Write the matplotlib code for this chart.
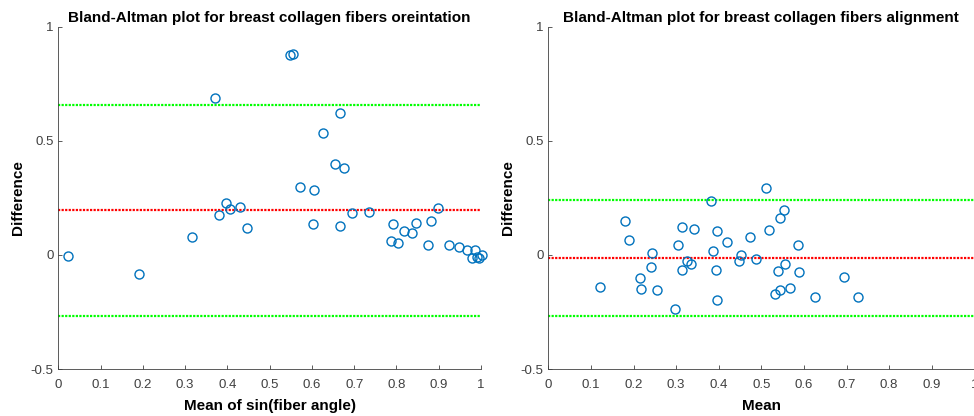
import numpy as np
import matplotlib
matplotlib.use("Agg")
import matplotlib.pyplot as plt

plt.rcParams['font.family'] = ['Liberation Sans', 'DejaVu Sans']

# orientation panel: mean of sin(fiber angle) vs difference
orient_mean = [0.022, 0.191, 0.317, 0.371, 0.379, 0.396, 0.407, 0.431, 0.446,
               0.549, 0.555, 0.571, 0.606, 0.603, 0.626, 0.654, 0.667, 0.666,
               0.677, 0.696, 0.735, 0.791, 0.787, 0.804, 0.818, 0.837, 0.846,
               0.875, 0.882, 0.899, 0.924, 0.948, 0.968, 0.985, 0.979, 0.990,
               0.996, 1.002]
orient_diff = [-0.005, -0.084, 0.078, 0.686, 0.175, 0.227, 0.200, 0.210, 0.118,
               0.874, 0.880, 0.297, 0.284, 0.135, 0.532, 0.398, 0.624, 0.126,
               0.380, 0.183, 0.188, 0.135, 0.061, 0.052, 0.105, 0.096, 0.140,
               0.043, 0.149, 0.205, 0.042, 0.035, 0.023, 0.021, -0.012, -0.008,
               -0.015, 0.001]
orient_bias = 0.195
orient_loa = [-0.266, 0.657]

# alignment panel
align_mean = [0.122, 0.180, 0.189, 0.216, 0.218, 0.244, 0.242, 0.256, 0.297,
              0.304, 0.313, 0.313, 0.326, 0.334, 0.343, 0.383, 0.387, 0.396,
              0.394, 0.396, 0.419, 0.447, 0.452, 0.474, 0.488, 0.512, 0.518,
              0.531, 0.540, 0.543, 0.543, 0.553, 0.555, 0.568, 0.587, 0.589,
              0.626, 0.695, 0.728]
align_diff = [-0.141, 0.149, 0.065, -0.101, -0.149, 0.008, -0.053, -0.154, -0.237,
              0.043, 0.121, -0.066, -0.025, -0.041, 0.113, 0.236, 0.017, 0.106,
              -0.066, -0.198, 0.057, -0.027, 0.000, 0.078, -0.018, 0.292, 0.109,
              -0.170, -0.069, 0.161, -0.152, 0.197, -0.040, -0.144, 0.043, -0.075,
              -0.183, -0.097, -0.183]
align_bias = -0.014
align_loa = [-0.268, 0.239]

titles = ['Bland-Altman plot for breast collagen fibers oreintation',
          'Bland-Altman plot for breast collagen fibers alignment']
xlabels = ['Mean of sin(fiber angle)', 'Mean']

blue = '#0072BD'
axis_col = '#404040'

fig = plt.figure(figsize=(9.74, 4.16), dpi=100)
ax1 = fig.add_axes([58.3 / 974, 1 - 369 / 416, 422.7 / 974, 342.3 / 416])
ax2 = fig.add_axes([548.3 / 974, 1 - 369 / 416, 426 / 974, 342.3 / 416])

panels = [(ax1, orient_mean, orient_diff, orient_bias, orient_loa),
          (ax2, align_mean, align_diff, align_bias, align_loa)]

for i, (ax, xm, yd, bias, loa) in enumerate(panels):
    ax.plot(xm, yd, 'o', mfc='none', mec=blue, mew=1.0, ms=6.5, clip_on=False, zorder=3)
    ax.plot([0, 1], [bias, bias], color='red', lw=1.6, ls=(0, (1, 0.6)))
    for v in loa:
        ax.plot([0, 1], [v, v], color='#00ff00', lw=1.6, ls=(0, (1, 0.6)))

    ax.set_xlim(0, 1)
    ax.set_ylim(-0.5, 1)
    ax.set_xticks(np.arange(0, 1.01, 0.1))
    ax.set_xticklabels(['0'] + [f'{v:.1f}' for v in np.arange(0.1, 0.95, 0.1)] + ['1'])
    ax.set_yticks([-0.5, 0, 0.5, 1])
    ax.set_yticklabels(['-0.5', '0', '0.5', '1'])
    ax.tick_params(direction='in', length=3, width=0.6, colors=axis_col,
                   labelsize=9.5, labelcolor=axis_col)
    ax.tick_params(axis='x', pad=7)
    for s in ['top', 'right']:
        ax.spines[s].set_visible(False)
    for s in ['left', 'bottom']:
        ax.spines[s].set_color(axis_col)
        ax.spines[s].set_linewidth(0.6)

    ax.set_title(titles[i], fontsize=11, fontweight='bold', pad=3.5)
    ax.set_xlabel(xlabels[i], fontsize=11, fontweight='bold', labelpad=6)
    ax.set_ylabel('Difference', fontsize=11, fontweight='bold', labelpad=4)

fig.savefig('out.png', dpi=100)
